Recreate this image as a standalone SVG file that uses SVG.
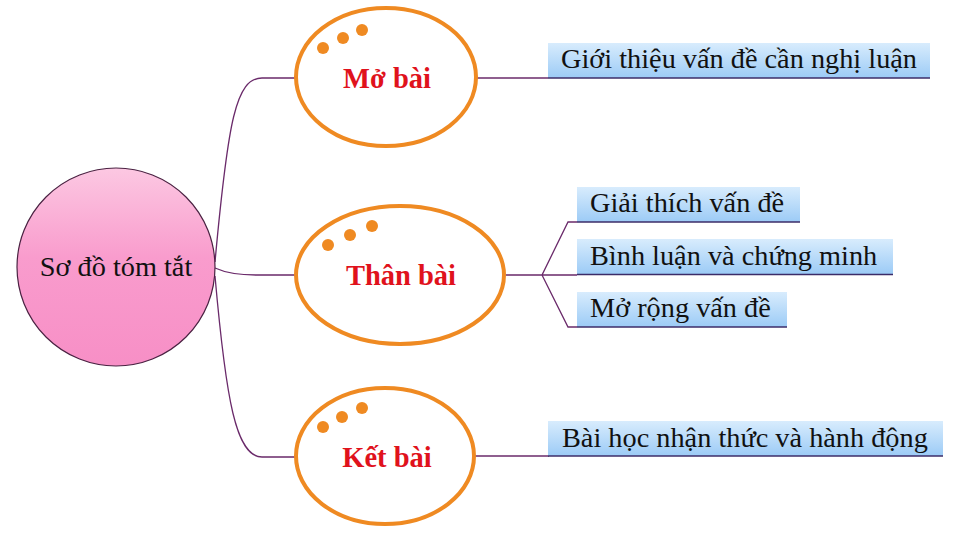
<svg xmlns="http://www.w3.org/2000/svg" width="960" height="546" viewBox="0 0 960 546">
<defs>
<linearGradient id="pink" x1="0" y1="0" x2="0" y2="1">
<stop offset="0" stop-color="#fcc8e2"/>
<stop offset="0.45" stop-color="#f99ccd"/>
<stop offset="1" stop-color="#f78fc6"/>
</linearGradient>
<linearGradient id="blue" x1="0" y1="0" x2="0" y2="1">
<stop offset="0" stop-color="#d8ecfd"/>
<stop offset="1" stop-color="#9ccbf6"/>
</linearGradient>
<style>
.conn{fill:none;stroke:#6a2a6a;stroke-width:1.3}
.ell{fill:#fff;stroke:#ef8a22;stroke-width:4}
.dot{fill:#ef8a22}
.lbl{font-family:"Liberation Serif","Times New Roman",serif;font-weight:bold;font-size:28.5px;fill:#e0121c;text-anchor:middle}
.box{fill:url(#blue)}
.ul{stroke:#3c2c68;stroke-width:1.6}
.txt{font-family:"Liberation Serif","Times New Roman",serif;font-size:28.3px;fill:#111}
</style>
</defs>
<rect width="960" height="546" fill="#fff"/>
<g id="connectors">
<path class="conn" d="M215,262 C228,120 236,78 262,78 H297"/>
<path class="conn" d="M215,268 C226,273 240,275 256,275 H297"/>
<path class="conn" d="M215,276 C226,400 236,457 262,457 H297"/>
<path class="conn" d="M477,78 H548"/>
<path class="conn" d="M506,275 H542 L568,222 H577 M542,275 H577 M542,275 L568,327 H577"/>
<path class="conn" d="M475,456 H549"/>
</g>
<g id="root">
<circle cx="116" cy="267" r="99" fill="url(#pink)" stroke="#4a2242" stroke-width="1.2"/>
<text class="txt" x="116" y="276" text-anchor="middle" fill="#2a1020">Sơ đồ tóm tắt</text>
</g>
<g id="mobai">
<ellipse class="ell" cx="386" cy="77" rx="90" ry="69"/>
<circle class="dot" cx="323" cy="48" r="6"/>
<circle class="dot" cx="343" cy="38" r="6"/>
<circle class="dot" cx="362" cy="30" r="6"/>
<text class="lbl" x="387" y="88">Mở bài</text>
</g>
<g id="thanbai">
<ellipse class="ell" cx="400" cy="275" rx="104" ry="69"/>
<circle class="dot" cx="328" cy="245" r="6"/>
<circle class="dot" cx="350" cy="235" r="6"/>
<circle class="dot" cx="372" cy="226" r="6"/>
<text class="lbl" x="401" y="285">Thân bài</text>
</g>
<g id="ketbai">
<ellipse class="ell" cx="385" cy="456" rx="89" ry="68"/>
<circle class="dot" cx="323" cy="427" r="6"/>
<circle class="dot" cx="342" cy="417" r="6"/>
<circle class="dot" cx="362" cy="408" r="6"/>
<text class="lbl" x="387" y="467">Kết bài</text>
</g>
<g id="gioithieu">
<rect class="box" x="548" y="43" width="382" height="35"/>
<line class="ul" x1="548" y1="78" x2="930" y2="78"/>
<text class="txt" x="561" y="68">Giới thiệu vấn đề cần nghị luận</text>
</g>
<g id="giaithich">
<rect class="box" x="577" y="187" width="223" height="35"/>
<line class="ul" x1="577" y1="222" x2="800" y2="222"/>
<text class="txt" x="590" y="212">Giải thích vấn đề</text>
</g>
<g id="binhluan">
<rect class="box" x="577" y="239" width="316" height="35"/>
<line class="ul" x1="577" y1="274.5" x2="893" y2="274.5"/>
<text class="txt" x="590" y="265">Bình luận và chứng minh</text>
</g>
<g id="morong">
<rect class="box" x="577" y="292" width="210" height="35"/>
<line class="ul" x1="577" y1="327" x2="787" y2="327"/>
<text class="txt" x="590" y="317">Mở rộng vấn đề</text>
</g>
<g id="baihoc">
<rect class="box" x="548" y="421" width="395" height="35"/>
<line class="ul" x1="548" y1="456" x2="943" y2="456"/>
<text class="txt" x="562" y="447">Bài học nhận thức và hành động</text>
</g>
</svg>
